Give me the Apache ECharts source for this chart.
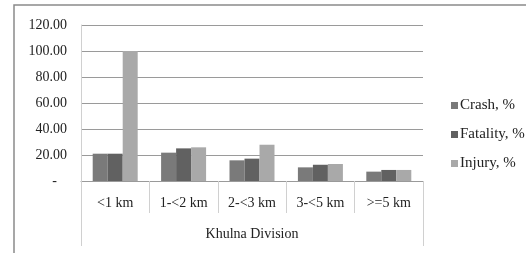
<!DOCTYPE html>
<html><head><meta charset="utf-8">
<script src="https://cdn.jsdelivr.net/npm/echarts@6/dist/echarts.min.js"></script>
<style>html,body{margin:0;padding:0;background:#fff}#c{width:526px;height:253px}</style>
</head><body><div id="c"></div>
<script>
var categories = ['<1 km', '1-<2 km', '2-<3 km', '3-<5 km', '>=5 km'];
var groupLabel = ['Khulna Division'];
var seriesNames = ['Crash, %', 'Fatality, %', 'Injury, %'];
var crash = [21.0, 21.8, 15.9, 10.5, 7.2];
var fatality = [21.0, 25.1, 17.2, 12.5, 8.5];
var injury = [100.0, 25.9, 27.9, 13.1, 8.5];
var colors = ['#7a7a7a', '#616161', '#a9a9a9'];

var font = 'Liberation Serif, Times New Roman, serif';
var chart = echarts.init(document.getElementById('c'));
var data = [crash, fatality, injury];
chart.setOption({
  animation: false,
  textStyle: {fontFamily: font},
  graphic: [{type: 'rect', shape: {x: 14, y: 5, width: 600, height: 300},
    style: {fill: 'none', stroke: '#8a8a8a', lineWidth: 1.5}, silent: true}],
  grid: {left: 81, right: 103, top: 25, bottom: 72},
  legend: {
    orient: 'vertical', left: 446, top: 93, itemWidth: 7, itemHeight: 7, itemGap: 14,
    icon: 'rect', textStyle: {fontFamily: font, fontSize: 15, color: '#222', padding: [0,0,0,-3]},
    data: seriesNames
  },
  xAxis: [{
    type: 'category', data: categories, position: 'bottom',
    axisLine: {lineStyle: {color: '#9a9a9a', width: 1}},
    axisTick: {show: true, length: 32, interval: 0, lineStyle: {color: '#d0d0d0'}},
    axisLabel: {interval: 0, margin: 15, fontFamily: font, fontSize: 14, color: '#222'}
  }, {
    type: 'category', data: groupLabel, position: 'bottom',
    axisLine: {show: false},
    axisTick: {show: true, length: 65, lineStyle: {color: '#d0d0d0'}},
    axisLabel: {margin: 46, fontFamily: font, fontSize: 14, color: '#222'}
  }],
  yAxis: {
    type: 'value', min: 0, max: 120, interval: 20,
    axisLine: {show: true, lineStyle: {color: '#d0d0d0'}},
    axisTick: {show: false},
    splitLine: {lineStyle: {color: '#9a9a9a'}},
    axisLabel: {margin: 14, fontFamily: font, fontSize: 14, color: '#222',
      formatter: function (v) { return v === 0 ? '{d|-}' : v.toFixed(2); },
      rich: {d: {fontFamily: font, fontSize: 14, color: '#222', padding: [0, 10, 0, 0]}}}
  },
  series: seriesNames.map(function (n, i) {
    return {name: n, type: 'bar', xAxisIndex: 0, data: data[i], barWidth: 15, barGap: '0%',
      itemStyle: {color: colors[i]}};
  })
});
</script></body></html>
